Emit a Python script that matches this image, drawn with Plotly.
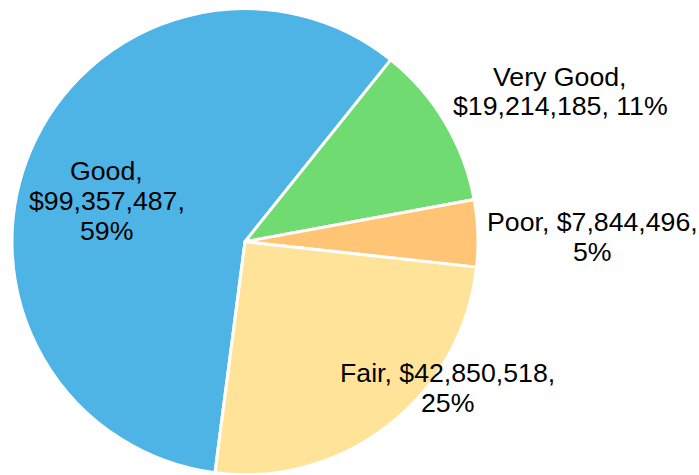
import plotly.graph_objects as go

# ---- data ----
labels = ["Good", "Very Good", "Poor", "Fair"]
values = [99357487, 19214185, 7844496, 42850518]

# ---- style / layout ----
colors = ["#4EB4E6", "#70DB71", "#FFC574", "#FFE399"]
W, H = 699, 475
FONT = "Arial, Liberation Sans, sans-serif"
FS = 26.7
LINE = 29.5
# how label parts are grouped into lines, per slice
line_groups = [[[0], [1], [2]], [[0], [1, 2]], [[0, 1], [2]], [[0, 1], [2]]]
# block centre of each label, in pixels from top-left
label_pos = [(106.5, 201), (560, 91.5), (592, 237), (447, 388)]

total = sum(values)
pcts = [round(v / total * 100) for v in values]

fig = go.Figure(go.Pie(
    labels=labels, values=values, sort=False, direction="clockwise",
    rotation=187.4, textinfo="none", hoverinfo="label+value+percent",
    marker=dict(colors=colors, line=dict(color="white", width=3)),
    domain=dict(x=[12 / W, 478 / W], y=[0.3 / H, 1 - 8.7 / H]),
    showlegend=False,
))

annotations = []
for lab, v, p, groups, (cx, cy) in zip(labels, values, pcts, line_groups, label_pos):
    parts = [f"{lab},", f"${v:,},", f"{p}%"]
    lines = [" ".join(parts[i] for i in g) for g in groups]
    n = len(lines)
    for k, ln in enumerate(lines):
        y = cy + (k - (n - 1) / 2) * LINE
        annotations.append(dict(
            text=ln, x=cx / W, y=1 - y / H, xref="paper", yref="paper",
            xanchor="center", yanchor="middle", showarrow=False,
            font=dict(family=FONT, size=FS, color="black"),
        ))

fig.update_layout(
    width=W, height=H, margin=dict(l=0, r=0, t=0, b=0),
    paper_bgcolor="white", plot_bgcolor="white",
    annotations=annotations,
)
fig.write_html(
    "out.html",
    config={"displayModeBar": False},
    post_script="document.body.style.margin='0';document.body.style.overflow='hidden';",
)
